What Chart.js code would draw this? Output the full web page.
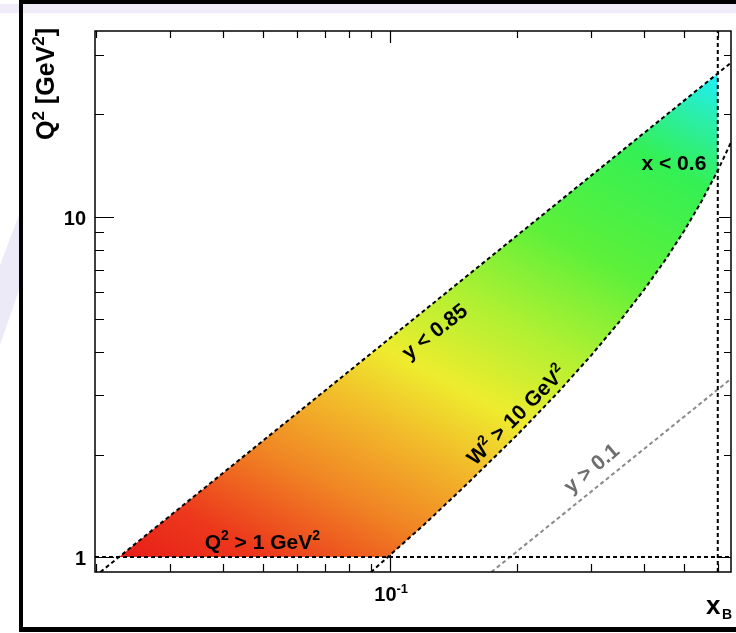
<!DOCTYPE html>
<html>
<head>
<meta charset="utf-8">
<script src="https://cdn.jsdelivr.net/npm/chart.js@4.4.1/dist/chart.umd.min.js"></script>
<style>
  html, body { margin: 0; padding: 0; background: #fff; }
  canvas { display: block; }
</style>
</head>
<body>
<canvas id="grafico" width="736" height="633"></canvas>
<script>
// > Limites cinematicos (x_B, Q^2 em GeV^2)
var yMaxX = [0.0205, 0.645];          // y < 0.85
var yMaxQ2 = [0.903, 28.4];
var yMinX = [0.174, 0.645];           // y > 0.1
var yMinQ2 = [0.903, 3.34];
var w2X = [0.09, 0.0988, 0.12, 0.15, 0.2, 0.25, 0.3, 0.35, 0.4, 0.45, 0.5, 0.55, 0.6, 0.645];   // W^2 > 10
var w2Q2 = [0.902, 1.0, 1.24, 1.61, 2.28, 3.04, 3.91, 4.91, 6.08, 7.46, 9.12, 11.15, 13.68, 16.57];
var q2CutX = [0.0199, 0.645];         // Q^2 > 1
var q2CutQ2 = [1, 1];
var xCutX = [0.6, 0.6];               // x < 0.6
var xCutQ2 = [0.903, 35.2];

// * regiao aceita (poligono)
var regiaoX = [0.0227, 0.6, 0.6, 0.55, 0.5, 0.45, 0.4, 0.35, 0.3, 0.25, 0.2, 0.15, 0.12, 0.0988];
var regiaoQ2 = [1.0, 26.4, 13.68, 11.15, 9.12, 7.46, 6.08, 4.91, 3.91, 3.04, 2.28, 1.61, 1.24, 1.0];

// ticks
var xTicks = [0.02, 0.03, 0.04, 0.05, 0.06, 0.07, 0.08, 0.09, 0.1, 0.2, 0.3, 0.4, 0.5, 0.6];
var yTicks = [1, 2, 3, 4, 5, 6, 7, 8, 9, 10, 20, 30];
var xMajor = [0.1];
var yMajor = [1, 10];
var xTickLabels = [["10", "-1"]];     // em 0.1
var yTickLabels = ["1", "10"];        // em 1 e 10

// textos dos cortes: [texto, x, Q2, angulo, cor]
var cortes = [
    [[["y < 0.85", 0]], 0.1272, 4.62, -38, "#000"],
    [[["W", 0], ["2", 1], [" > 10 GeV", 0], ["2", 1]], 0.199, 2.62, -45, "#000"],
    [[["y > 0.1", 0]], 0.300, 1.83, -40, "#6e6e6e"],
    [[["x < 0.6", 0]], 0.472, 14.5, 0, "#000"],
    [[["Q", 0], ["2", 1], [" > 1 GeV", 0], ["2", 1]], 0.0497, 1.114, 0, "#000"]
];

function pts(xs, ys) {
    var r = [];
    for (var i = 0; i < xs.length; i++) r.push({ x: xs[i], y: ys[i] });
    return r;
}

var FONTE = "'Liberation Sans', Arial, sans-serif";

// escreve texto com sobrescritos, centrado em (0,0)
function textoSup(ctx, partes, tam, alinhar) {
    var larg = 0;
    var tsup = Math.round(tam * 0.66);
    for (var i = 0; i < partes.length; i++) {
        ctx.font = "bold " + (partes[i][1] ? tsup : tam) + "px " + FONTE;
        larg += ctx.measureText(partes[i][0]).width;
    }
    var x0 = alinhar == "right" ? -larg : (alinhar == "left" ? 0 : -larg / 2);
    ctx.textBaseline = "alphabetic";
    ctx.textAlign = "left";
    for (var i = 0; i < partes.length; i++) {
        var sup = partes[i][1];
        ctx.font = "bold " + (sup ? tsup : tam) + "px " + FONTE;
        ctx.fillText(partes[i][0], x0, sup ? tam * 0.36 - tam * 0.42 : tam * 0.36);
        x0 += ctx.measureText(partes[i][0]).width;
    }
}

function gradiente(context) {
    var chart = context.chart;
    if (!chart.chartArea) return "#f08a22";
    var c = chart.ctx;
    var sx = chart.scales.x, sy = chart.scales.y;
    var x0 = sx.getPixelForValue(regiaoX[0]), y0 = sy.getPixelForValue(regiaoQ2[0]);
    var ang = 62 * Math.PI / 180;
    var L = 700;
    var g = c.createLinearGradient(x0, y0, x0 + L * Math.cos(ang), y0 - L * Math.sin(ang));
    g.addColorStop(0.00, "#e81e18");
    g.addColorStop(0.10, "#ec381c");
    g.addColorStop(0.23, "#f08424");
    g.addColorStop(0.34, "#f2b82a");
    g.addColorStop(0.44, "#eeec2e");
    g.addColorStop(0.56, "#b0f032");
    g.addColorStop(0.70, "#5cf03a");
    g.addColorStop(0.86, "#34f054");
    g.addColorStop(0.95, "#2aeeb0");
    g.addColorStop(1.00, "#20eef0");
    return g;
}

var fundo = {
    id: "fundo",
    beforeDraw: function (chart) {
        var c = chart.ctx;
        c.save();
        c.fillStyle = "#fff";
        c.fillRect(0, 0, 736, 633);
        // faixa lilas do slide
        c.fillStyle = "#efecf7";
        c.fillRect(0, 4, 736, 9);
        c.fillStyle = "#eceaf6";
        c.beginPath();
        c.moveTo(0, 265); c.lineTo(19, 215); c.lineTo(19, 290); c.lineTo(0, 345);
        c.closePath(); c.fill();
        // moldura preta
        c.fillStyle = "#000";
        c.fillRect(19, 0, 717, 4);
        c.fillRect(19, 0, 4, 632);
        c.fillRect(19, 627, 717, 5);
        c.restore();
    }
};

var eixos = {
    id: "eixos",
    afterDraw: function (chart) {
        var c = chart.ctx;
        var a = chart.chartArea;
        var sx = chart.scales.x, sy = chart.scales.y;
        c.save();
        c.strokeStyle = "#000";
        c.lineWidth = 1.5;
        c.strokeRect(a.left, a.top, a.right - a.left, a.bottom - a.top);

        c.lineWidth = 1.2;
        c.beginPath();
        xTicks.forEach(function (v) {
            var p = Math.round(sx.getPixelForValue(v)) + 0.5;
            var maior = xMajor.indexOf(v) >= 0;
            c.moveTo(p, a.bottom); c.lineTo(p, a.bottom - (maior ? 17 : 8));
            c.moveTo(p, a.top); c.lineTo(p, a.top + (maior ? 12 : 7));
        });
        yTicks.forEach(function (v) {
            var p = Math.round(sy.getPixelForValue(v)) + 0.5;
            var maior = yMajor.indexOf(v) >= 0;
            c.moveTo(a.left, p); c.lineTo(a.left + (maior ? 19 : 9), p);
            c.moveTo(a.right, p); c.lineTo(a.right - (maior ? 12 : 7), p);
        });
        c.stroke();

        // rotulos dos ticks
        c.fillStyle = "#000";
        yMajor.forEach(function (v, i) {
            c.save();
            c.translate(86, sy.getPixelForValue(v) + 0.5);
            textoSup(c, [[yTickLabels[i], 0]], 20, "right");
            c.restore();
        });
        xMajor.forEach(function (v, i) {
            c.save();
            c.translate(sx.getPixelForValue(v) + 1, 594);
            textoSup(c, [[xTickLabels[i][0], 0], [xTickLabels[i][1], 1]], 20, "center");
            c.restore();
        });

        // titulos dos eixos
        c.save();
        c.translate(45, 84);
        c.rotate(-Math.PI / 2);
        textoSup(c, [["Q", 0], ["2", 1], [" [GeV", 0], ["2", 1], ["]", 0]], 25, "center");
        c.restore();
        c.font = "bold 26px " + FONTE;
        c.textAlign = "left";
        c.textBaseline = "alphabetic";
        c.fillText("x", 706, 614);
        c.font = "bold 14px " + FONTE;
        c.fillText("B", 722, 619);

        // textos dos cortes
        cortes.forEach(function (t) {
            c.save();
            c.fillStyle = t[4];
            c.translate(sx.getPixelForValue(t[1]), sy.getPixelForValue(t[2]));
            c.rotate(t[3] * Math.PI / 180);
            textoSup(c, t[0], 21, "center");
            c.restore();
        });
        c.restore();
    }
};

function linha(dados, cor) {
    return {
        data: dados,
        showLine: true,
        borderColor: cor,
        borderWidth: 2,
        borderDash: [4, 3],
        pointRadius: 0,
        fill: false,
        order: 0
    };
}

var ctx = document.getElementById("grafico").getContext("2d");
var grafico = new Chart(ctx, {
    type: "scatter",
    data: {
        datasets: [
            linha(pts(yMaxX, yMaxQ2), "#000"),
            linha(pts(w2X, w2Q2), "#000"),
            linha(pts(q2CutX, q2CutQ2), "#000"),
            linha(pts(xCutX, xCutQ2), "#000"),
            linha(pts(yMinX, yMinQ2), "#8a8a8a"),
            {
                data: pts(regiaoX, regiaoQ2),
                showLine: true,
                borderWidth: 0,
                borderColor: "rgba(0,0,0,0)",
                backgroundColor: gradiente,
                pointRadius: 0,
                fill: "shape",
                order: 10
            }
        ]
    },
    options: {
        responsive: false,
        animation: false,
        layout: { padding: { left: 95, top: 31, right: 5, bottom: 61 } },
        plugins: { legend: { display: false }, tooltip: { enabled: false } },
        scales: {
            x: { type: "logarithmic", min: 0.0199, max: 0.645, display: false },
            y: { type: "logarithmic", min: 0.903, max: 35.2, display: false }
        }
    },
    plugins: [fundo, eixos]
});
</script>
</body>
</html>
